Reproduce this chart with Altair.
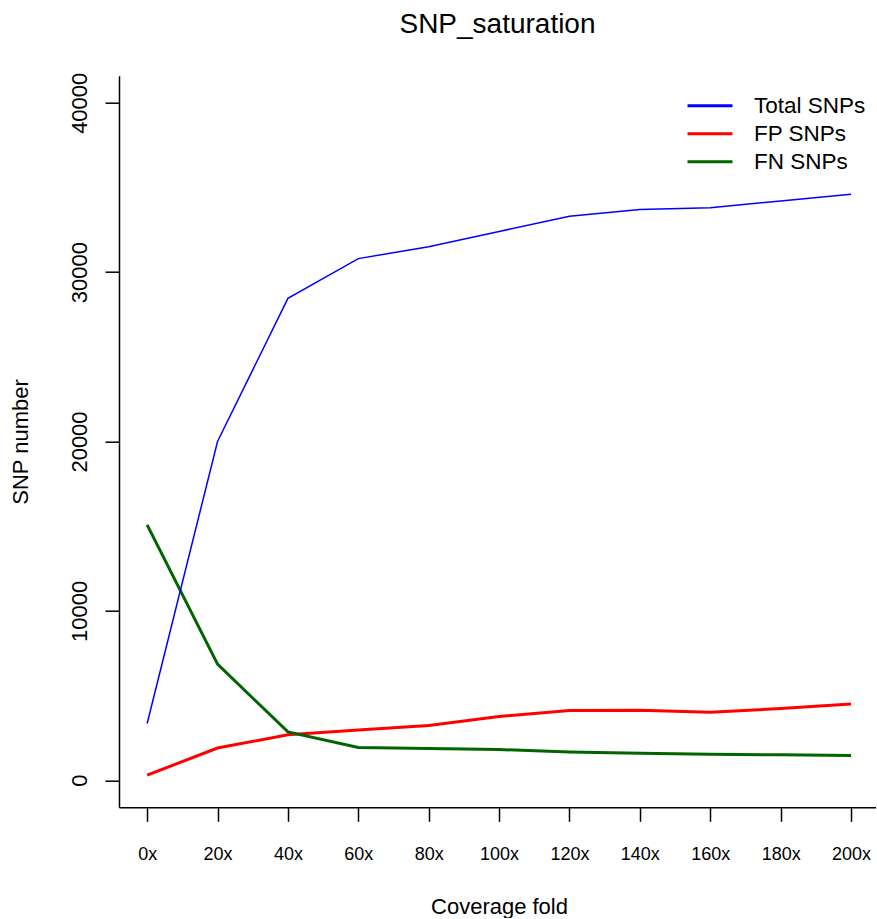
import altair as alt
import pandas as pd

coverage = [0, 20, 40, 60, 80, 100, 120, 140, 160, 180, 200]
total_snps = [3350, 20000, 28450, 30800, 31500, 32400, 33300, 33700, 33800, 34200, 34600]
fp_snps = [300, 1900, 2680, 2970, 3230, 3760, 4110, 4130, 4010, 4230, 4500]
fn_snps = [15080, 6850, 2850, 1930, 1870, 1810, 1670, 1590, 1530, 1500, 1460]
y_ticks = [0, 10000, 20000, 30000, 40000]

series_names = ["Total SNPs", "FP SNPs", "FN SNPs"]
series_colors = ["#0000FF", "#FF0000", "#006400"]

rows = []
for name, vals in zip(series_names, [total_snps, fp_snps, fn_snps]):
    for c, v in zip(coverage, vals):
        rows.append({"coverage": c, "value": v, "series": name})
df = pd.DataFrame(rows)

FONT = "Liberation Sans"

x_enc = alt.X(
    "coverage:Q",
    scale=alt.Scale(domain=[-8, 207.1], nice=False, zero=False),
    axis=alt.Axis(
        values=coverage,
        labelExpr="datum.value + 'x'",
        title="Coverage fold",
        grid=False,
        tickSize=14,
        labelPadding=38,
        labelBaseline="alphabetic",
        labelFontSize=18,
        labelFlush=False,
        labelOverlap=False,
        titleFontSize=22,
        titleFontWeight="normal",
        titleX=380,
        titleY=106,
        titleAlign="center",
        titleBaseline="alphabetic",
    ),
)
y_enc = alt.Y(
    "value:Q",
    scale=alt.Scale(domain=[-1600, 41600], nice=False, zero=False),
    axis=alt.Axis(
        values=y_ticks,
        format="d",
        title="SNP number",
        grid=False,
        tickSize=14,
        labelAngle=270,
        labelAlign="center",
        labelBaseline="alphabetic",
        labelPadding=19,
        labelFontSize=22,
        labelFlush=False,
        labelOverlap=False,
        titleFontSize=22,
        titleFontWeight="normal",
        titleAngle=270,
        titleX=-91.5,
        titleY=365.8,
        titleAlign="center",
        titleBaseline="alphabetic",
    ),
)
color_enc = alt.Color(
    "series:N",
    scale=alt.Scale(domain=series_names, range=series_colors),
    legend=alt.Legend(
        title=None,
        orient="none",
        legendX=567,
        legendY=17,
        symbolType="stroke",
        symbolSize=2025,
        symbolStrokeWidth=3,
        clipHeight=26,
        rowPadding=2,
        labelFontSize=22.5,
        labelOffset=20,
        labelFont=FONT,
        labelColor="black",
        padding=0,
    ),
)

base = alt.Chart(df)
thick = base.transform_filter(alt.datum.series != "Total SNPs").mark_line(strokeWidth=3).encode(
    x=x_enc, y=y_enc, color=color_enc
)
thin = base.transform_filter(alt.datum.series == "Total SNPs").mark_line(strokeWidth=1.5).encode(
    x=x_enc, y=y_enc, color=color_enc
)

chart = alt.layer(thick, thin).properties(
    width=757,
    height=731.6,
    title=alt.TitleParams(
        "SNP_saturation",
        fontSize=28,
        font=FONT,
        fontWeight="normal",
        anchor="middle",
        frame="group",
        baseline="alphabetic",
        offset=11,
        color="black",
    ),
    autosize=alt.AutoSizeParams(type="none"),
    padding={"left": 119, "top": 75.7, "right": 0, "bottom": 111},
).configure(
    font=FONT,
).configure_axis(
    domainColor="black",
    domainWidth=1.5,
    tickColor="black",
    tickWidth=1.5,
    labelColor="black",
    titleColor="black",
    labelFont=FONT,
    titleFont=FONT,
).configure_view(
    stroke=None,
)

chart.save("out.html", embed_options={"renderer": "svg", "actions": False})
